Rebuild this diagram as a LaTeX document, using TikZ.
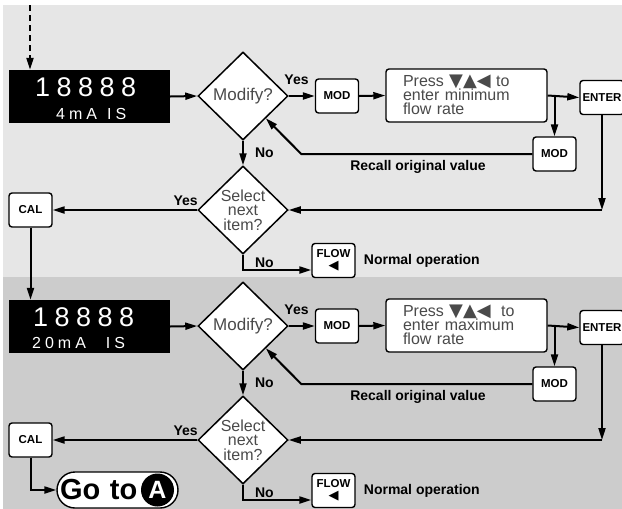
\documentclass[tikz,border=0pt]{standalone}
\usepackage{fontspec}
\setmainfont{Liberation Sans}
\newfontfamily\symfont{DejaVu Sans}
\newfontfamily\dispfont[LetterSpace=24]{Liberation Sans}
\newfontfamily\unitfont[LetterSpace=25]{Liberation Sans}
\usetikzlibrary{shapes.geometric, positioning, arrows.meta, calc}
\definecolor{bandtop}{HTML}{E6E6E6}
\definecolor{bandlow}{HTML}{CCCCCC}
\definecolor{softtext}{HTML}{4A4A4A}
\newcommand{\keysyms}{\smash{\symfont\fontsize{18}{14}\selectfont ▼▲◀}}

\begin{document}
\begin{tikzpicture}[
  x=1pt, y=-1pt,
  every node/.style={inner sep=0pt},
  disp/.style    ={fill=black, minimum width=161pt, minimum height=53pt},
  digits/.style  ={text=white, font=\dispfont\fontsize{27}{27}\selectfont},
  units/.style   ={text=white, font=\unitfont\fontsize{16}{16}\selectfont},
  decision/.style={draw, line width=1.5pt, diamond, aspect=1, fill=white,
                   minimum width=90pt, minimum height=88pt, align=center,
                   text=softtext, font=\fontsize{16}{14.5}\selectfont},
  key/.style     ={draw, line width=1.4pt, rounded corners=3pt, fill=white,
                   minimum width=43pt, minimum height=34pt, align=center,
                   font=\bfseries\fontsize{11.5}{12}\selectfont},
  note/.style    ={draw, line width=1.4pt, rounded corners=3pt, fill=white,
                   minimum width=161pt, minimum height=53pt, text width=127pt,
                   inner xsep=17pt, align=left, text=softtext,
                   font=\fontsize{16}{14}\selectfont},
  goto/.style    ={draw, line width=1.4pt, rounded corners=18pt, fill=white,
                   minimum width=121pt, minimum height=36pt, text width=115pt,
                   inner xsep=3pt, align=left,
                   font=\bfseries\fontsize{29}{29}\selectfont},
  badge/.style   ={circle, fill=black, minimum size=33pt, text=white,
                   font=\bfseries\fontsize{25}{25}\selectfont},
  lbl/.style     ={font=\bfseries\fontsize{14}{14}\selectfont},
  arr/.style     ={-{Triangle[length=12pt, width=7pt]}, line width=2pt},
]

%% ---- y layout (pt, y grows downward) ----
%%   5 .. 277  upper band  (4 mA)
%% 277 .. 509  lower band  (20 mA), everything shifted by 230

\fill[white] (0,0) rectangle (622,509);
\fill[bandtop] (3,5) rectangle (622,277);
\fill[bandlow] (3,277) rectangle (622,509);
\useasboundingbox (0,0) rectangle (622,509);

%% ---- upper band: minimum flow ----
\coordinate (startA) at (30,5);
\node[disp] (dispA) at (89.5,96.5) {};
\node[digits, anchor=base west] (digA) at (35,96) {18888};
\node[units, anchor=base west] (unitA) at (56,119) {4mA\hspace{10pt}IS};
\draw[arr, dash pattern=on 6pt off 4pt] (startA) -- (startA |- dispA.north);

\node[decision, font=\fontsize{17}{14}\selectfont] (modA) at (243,96) {Modify?};
\draw[arr] (dispA.east) -- (modA.west);

\node[key] (keyA) at (337,96) {MOD};
\draw[arr] (modA.east) -- node[lbl, pos=0.3, above=10pt] (yesA) {Yes} (keyA.west);

\node[note] (pressA) at (466.5,95.5)
  {Press \keysyms\ to\\enter minimum\\flow rate};
\draw[arr] (keyA.east) -- (pressA.west);

\node[key, minimum width=44pt] (enterA) at (602,97.5) {ENTER};
\draw[arr] (pressA.east) -- (enterA.west);

%% recall loop
\node[key] (backA) at (554.5,154) {MOD};
\draw[arr] (backA.north |- pressA.east) -- (backA.north);
\draw[arr] (backA.west) -- ++(-231,0) -- (modA.south east);
\node[lbl] (recallA) at (418,167) {Recall original value};

%% select next item
\node[decision] (selA) at (243,210) {Select\\next\\item?};
\draw[arr] (modA.south) -- node[lbl, right=11pt] (noA) {No} (selA.north);
\coordinate (turnA) at (enterA.south |- selA.east);
\draw[arr] (enterA.south) -- (turnA);
\draw[arr] (turnA) -- (selA.east);

\node[key] (calA) at (30.5,210) {CAL};
\draw[arr] (selA.west) -- node[lbl, pos=0.08, above=3pt] (yesSelA) {Yes} (calA.east);

\node[key] (flowA) at (333.5,260.5) {FLOW\\{\symfont\fontsize{13}{12}\selectfont ◀}};
\node[lbl, right=8pt of flowA] (normA) {Normal operation};
\draw[arr] (selA.south) |- node[lbl, pos=0.25, right=11pt] (noSelA) {No}
  ([yshift=-9.5pt]flowA.west);

%% ---- lower band: maximum flow ----
\node[disp] (dispB) at (89.5,326.5) {};
\node[digits, anchor=base west] (digB) at (33,326) {18888};
\node[units, anchor=base west] (unitB) at (32,348) {20mA\hspace{20pt}IS};
\draw[arr] (calA.south) -- (calA.south |- dispB.north);

\node[decision, font=\fontsize{17}{14}\selectfont] (modB) at (243,326) {Modify?};
\draw[arr] (dispB.east) -- (modB.west);

\node[key] (keyB) at (337,326) {MOD};
\draw[arr] (modB.east) -- node[lbl, pos=0.3, above=10pt] (yesB) {Yes} (keyB.west);

\node[note] (pressB) at (466.5,325.5)
  {Press \keysyms\hspace{5pt} to\\enter maximum\\flow rate};
\draw[arr] (keyB.east) -- (pressB.west);

\node[key, minimum width=44pt] (enterB) at (602,327.5) {ENTER};
\draw[arr] (pressB.east) -- (enterB.west);

%% recall loop
\node[key] (backB) at (554.5,384) {MOD};
\draw[arr] (backB.north |- pressB.east) -- (backB.north);
\draw[arr] (backB.west) -- ++(-231,0) -- (modB.south east);
\node[lbl] (recallB) at (418,397) {Recall original value};

%% select next item
\node[decision] (selB) at (243,440) {Select\\next\\item?};
\draw[arr] (modB.south) -- node[lbl, right=11pt] (noB) {No} (selB.north);
\coordinate (turnB) at (enterB.south |- selB.east);
\draw[arr] (enterB.south) -- (turnB);
\draw[arr] (turnB) -- (selB.east);

\node[key] (calB) at (30.5,440) {CAL};
\draw[arr] (selB.west) -- node[lbl, pos=0.08, above=3pt] (yesSelB) {Yes} (calB.east);

\node[key] (flowB) at (333.5,490.5) {FLOW\\{\symfont\fontsize{13}{12}\selectfont ◀}};
\node[lbl, right=8pt of flowB] (normB) {Normal operation};
\draw[arr] (selB.south) |- node[lbl, pos=0.25, right=11pt] (noSelB) {No}
  ([yshift=-9.5pt]flowB.west);

%% ---- exit ----
\node[goto] (gotoB) at (117.5,490) {Go to};
\node[badge] (markB) at (157.5,490) {A};
\draw[arr] (calB.south) |- (gotoB.west);

\end{tikzpicture}
\end{document}
